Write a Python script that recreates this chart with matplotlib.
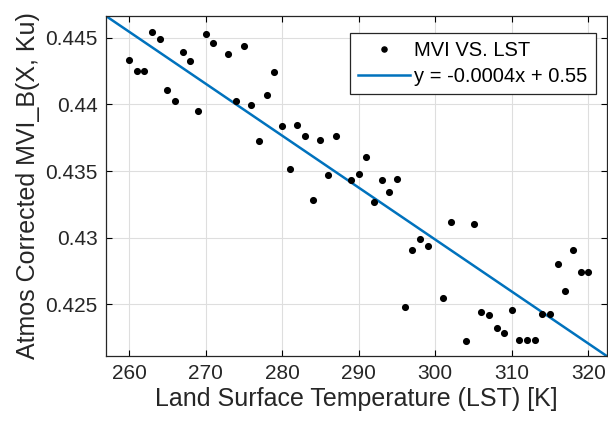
import numpy as np
import matplotlib
matplotlib.use('Agg')
import matplotlib.pyplot as plt
from matplotlib.ticker import FuncFormatter

plt.rcParams['font.family'] = ['Liberation Sans', 'DejaVu Sans']

# LST [K] vs atmos corrected MVI
lst = [260, 261, 262, 263, 264, 265, 266, 267, 268, 269, 270, 271, 273, 274,
       275, 276, 277, 278, 279, 280, 281, 282, 283, 284, 285, 286, 287, 289,
       290, 291, 292, 293, 294, 295, 296, 297, 298, 299, 301, 302, 304, 305,
       306, 307, 308, 309, 310, 311, 312, 313, 314, 315, 316, 317, 318, 319, 320]
mvi = [0.44331, 0.44249, 0.44249, 0.44544, 0.44491, 0.44106, 0.44028, 0.44396,
       0.44328, 0.43950, 0.44526, 0.44463, 0.44381, 0.44026, 0.44441, 0.43996,
       0.43727, 0.44071, 0.44243, 0.43840, 0.43517, 0.43845, 0.43765, 0.43285,
       0.43733, 0.43472, 0.43765, 0.43430, 0.43477, 0.43605, 0.43267, 0.43432,
       0.43345, 0.43442, 0.42477, 0.42907, 0.42992, 0.42937, 0.42544, 0.43119,
       0.42226, 0.43100, 0.42441, 0.42421, 0.42319, 0.42282, 0.42459, 0.42231,
       0.42231, 0.42231, 0.42426, 0.42426, 0.42800, 0.42597, 0.42909, 0.42742,
       0.42742]

# fitted line (unrounded coefficients)
slope = -0.0003904
intercept = 0.54697
fit_label = 'y = -0.0004x + 0.55'

x_ticks = [260, 270, 280, 290, 300, 310, 320]
y_ticks = [0.425, 0.43, 0.435, 0.44, 0.445]

fig = plt.figure(figsize=(6.08, 4.24), dpi=100)
ax = fig.add_axes([0.1743, 0.1604, 0.8237, 0.8019])

xl = np.array([257, 322.4])
ax.plot(lst, mvi, 'o', color='black', markersize=4.1, label='MVI VS. LST', zorder=3)
ax.plot(xl, slope * xl + intercept, color='#0072BD', linewidth=1.8, label=fit_label, zorder=2)

ax.set_xlim(xl[0], xl[1])
ax.set_ylim(0.42111, 0.44664)
ax.set_xticks(x_ticks)
ax.set_yticks(y_ticks)
ax.yaxis.set_major_formatter(FuncFormatter(lambda v, p: '%g' % v))
ax.grid(True, color='#dedede', linewidth=0.8)
ax.set_axisbelow(True)
ax.tick_params(direction='in', top=True, right=True, labelsize=15, length=4, pad=6,
               labelcolor='#262626')
for s in ax.spines.values():
    s.set_linewidth(0.9)
    s.set_color('#262626')

ax.set_xlabel('Land Surface Temperature (LST) [K]', fontsize=18, color='#262626', labelpad=3)
ax.set_ylabel('Atmos Corrected MVI_B(X, Ku)', fontsize=18, color='#262626', labelpad=4)

leg = ax.legend(loc='upper right', bbox_to_anchor=(0.978, 0.951), fontsize=14.5,
                fancybox=False, framealpha=1, edgecolor='#262626', borderaxespad=0,
                handlelength=2.6, handletextpad=0.2, labelspacing=0.35, borderpad=0.4,
                markerscale=0.9)
leg.get_frame().set_linewidth(0.9)

fig.savefig('out.png', dpi=100)
